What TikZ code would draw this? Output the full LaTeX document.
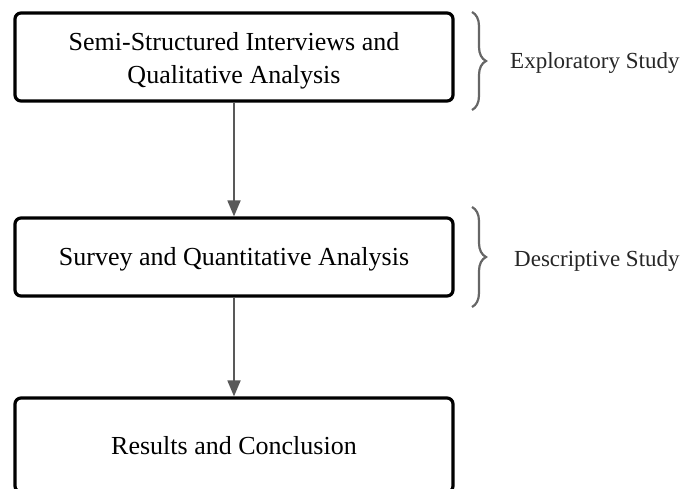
\documentclass[tikz,border=0pt]{standalone}
\usepackage{fontspec}
\setmainfont{Liberation Serif}
\usetikzlibrary{arrows.meta,decorations.pathreplacing}
\begin{document}
\begin{tikzpicture}[x=1pt,y=-1pt,
  stage/.style={draw=black,line width=3.2pt,rounded corners=6pt,minimum width=438pt,inner sep=0pt},
  stagetext/.style={align=center,font=\fontsize{26}{33}\selectfont,inner sep=0pt},
  flow/.style={draw=black!65,line width=1.8pt,-{Triangle[length=16pt,width=13pt]}},
  brace/.style={draw=black!60,line width=2.2pt,decorate,decoration={brace,amplitude=14pt}},
  side/.style={anchor=west,font=\fontsize{23}{27}\selectfont,text=black!85,inner sep=0pt}]
\useasboundingbox (0,0) rectangle (682,488);
\node[stage,minimum height=88pt] (s1) at (234,57) {};
\node[stagetext] (t1) at (234,61) {Semi-Structured Interviews and\\Qualitative Analysis};
\node[stage,minimum height=78pt] (s2) at (234,257) {};
\node[stagetext] (t2) at (234,259) {Survey and Quantitative Analysis};
\node[stage,minimum height=94pt] (s3) at (234,445) {};
\node[stagetext] (t3) at (234,446) {Results and Conclusion};
\draw[flow] (s1.south) -- (s2.north);
\draw[flow] (s2.south) -- (s3.north);
\coordinate (b1t) at (472,12);
\coordinate (b1b) at (472,110);
\coordinate (b2t) at (472,207);
\coordinate (b2b) at (472,307);
\draw[brace] (b1t) -- (b1b);
\draw[brace] (b2t) -- (b2b);
\node[side] (e) at (510,63) {Exploratory Study};
\node[side] (d) at (514,261) {Descriptive Study};
\end{tikzpicture}
\end{document}
